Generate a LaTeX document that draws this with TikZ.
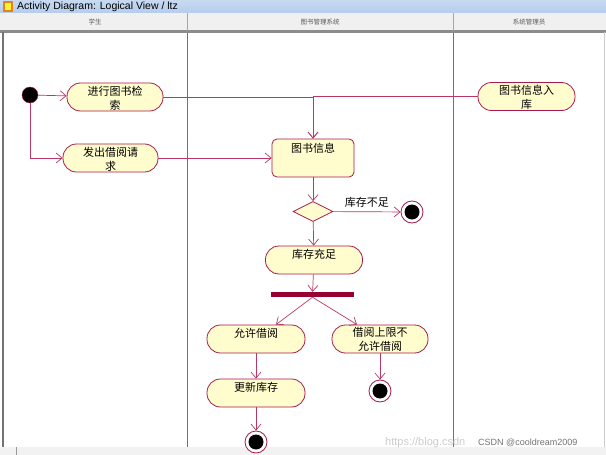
\documentclass[tikz,border=0pt]{standalone}
\usepackage{fontspec}
\setmainfont{Liberation Sans}
\newfontfamily\cjk{Noto Sans CJK SC}
\usetikzlibrary{arrows.meta,shapes.geometric}
\definecolor{lanecol}{RGB}{215,60,130}
\definecolor{edgec}{RGB}{185,55,100}
\definecolor{nodeb}{RGB}{165,25,75}
\definecolor{nodef}{RGB}{255,253,205}
\definecolor{barc}{RGB}{150,0,50}
\definecolor{titlea}{RGB}{200,218,242}
\definecolor{titleb}{RGB}{180,204,236}
\begin{document}
\begin{tikzpicture}[x=1pt,y=-1pt,
  act/.style={draw=nodeb, fill=nodef, line width=0.8pt, rounded corners=13.5pt,
    minimum width=#1, minimum height=28pt, inner sep=0pt},
  txt/.style={font=\cjk\fontsize{11}{14}\selectfont, align=center, anchor=north, inner sep=0pt},
  edge/.style={draw=edgec, line width=0.7pt, -{Straight Barb[length=6pt,width=10pt]}},
  swimlane/.style={fill=lanecol},
  finalnode/.style={circle, draw=nodeb, fill=white, line width=0.8pt, minimum size=22pt, inner sep=0pt,
    path picture={\fill[black] (path picture bounding box.center) circle (7.5pt);}},
  hdr/.style={font=\cjk\fontsize{6.5}{8}\selectfont, text=black!65}]
\useasboundingbox (0,0) rectangle (606,455);
% window frame
\fill[white] (0,0) rectangle (606,455);
\shade[top color=titlea, bottom color=titleb] (0,0) rectangle (606,13);
\fill[orange!70!brown] (3,1) rectangle (13,12);
\fill[yellow!80] (5,3) rectangle (11,10);
\node[anchor=west, inner sep=0pt, font=\fontsize{10.5}{11}\selectfont] (title) at (17,7) {Activity Diagram: Logical View / ltz};
\fill[black!6] (0,13) rectangle (606,31);
\fill[black!45] (0,30) rectangle (606,32.5);
\draw[black!35, line width=1pt] (187.5,13) -- (187.5,31) (453.5,13) -- (453.5,31);
\node[hdr] (h1) at (95,22) {学生};
\node[hdr] (h2) at (320,22) {图书管理系统};
\node[hdr] (h3) at (529,22) {系统管理员};
\fill[black!55] (1.5,32) rectangle (4,447);
\draw[black!20] (604,32) -- (604,447);
\fill[black!5] (0,447) rectangle (606,455);
\draw[black!40] (16,447) -- (16,455);
% lanes
\fill[swimlane] (186.8,32.5) rectangle (188.3,447);
\fill[swimlane] (452.8,32.5) rectangle (454.3,447);
% nodes
\node[circle, fill=black, draw=nodeb, minimum size=16pt, inner sep=0pt] (init) at (30,95) {};
\node[act=96pt] (search) at (115,97) {};
\node[txt] (searcht) at ([yshift=-3]search.north) {进行图书检\\索};
\node[act=95pt] (request) at (110.5,158) {};
\node[txt] (requestt) at ([yshift=-3]request.north) {发出借阅请\\求};
\node[act=97pt] (ruku) at (526.5,96.5) {};
\node[txt] (rukut) at ([yshift=-3]ruku.north) {图书信息入\\库};
\node[draw=nodeb, fill=nodef, line width=0.8pt, rounded corners=5pt, minimum width=82pt, minimum height=38pt, inner sep=0pt] (info) at (313,158) {};
\node[txt] (infot) at ([yshift=-4]info.north) {图书信息};
\node[diamond, draw=nodeb, fill=nodef, line width=0.8pt, minimum width=40pt, minimum height=20pt, inner sep=0pt] (dia) at (313,211.5) {};
\node[finalnode] (fin1) at (412,212) {};
\node[act=97pt] (enough) at (314,260) {};
\node[txt] (enought) at ([yshift=-3]enough.north) {库存充足};
\node[fill=barc, minimum width=83pt, minimum height=5pt, inner sep=0pt] (bar) at (312.5,294.5) {};
\node[act=98pt] (allow) at (256,339) {};
\node[txt] (allowt) at ([yshift=-3]allow.north) {允许借阅};
\node[act=96pt] (deny) at (380,339) {};
\node[txt] (denyt) at ([yshift=-3]deny.north) {借阅上限不\\允许借阅};
\node[act=98pt] (update) at (256,393) {};
\node[txt] (updatet) at ([yshift=-3]update.north) {更新库存};
\node[finalnode] (fin2) at (256,442) {};
\node[finalnode] (fin3) at (380,391) {};
% connectors
\draw[edge] (init) -- (search);
\draw[edge] (init) |- (request);
\draw[edge] (search.east) -| (info.north);
\draw[edge] (ruku.west) -| (info.north);
\draw[edge] (request) -- (info);
\draw[edge] (info) -- (dia);
\draw[edge] (dia) -- (fin1) node[midway, above=4pt, font=\cjk\fontsize{11}{13}\selectfont, inner sep=0pt] (lowlab) {库存不足};
\draw[edge] (dia) -- (enough);
\draw[edge] (enough) -- (bar);
\draw[edge] (bar.south) -- ([xshift=20]allow.north);
\draw[edge] (bar.south) -- ([xshift=-23]deny.north);
\draw[edge] (allow) -- (update);
\draw[edge] (update) -- (fin2);
\draw[edge] (deny) -- (fin3);
% watermark
\node[text=black!20, font=\fontsize{11}{12}\selectfont, anchor=west, inner sep=0pt] (wm1) at (385,443) {https://blog.csdn};
\node[text=black!55, font=\fontsize{9}{10}\selectfont, anchor=west, inner sep=0pt] (wm2) at (478,443) {CSDN @cooldream2009};
\end{tikzpicture}
\end{document}
